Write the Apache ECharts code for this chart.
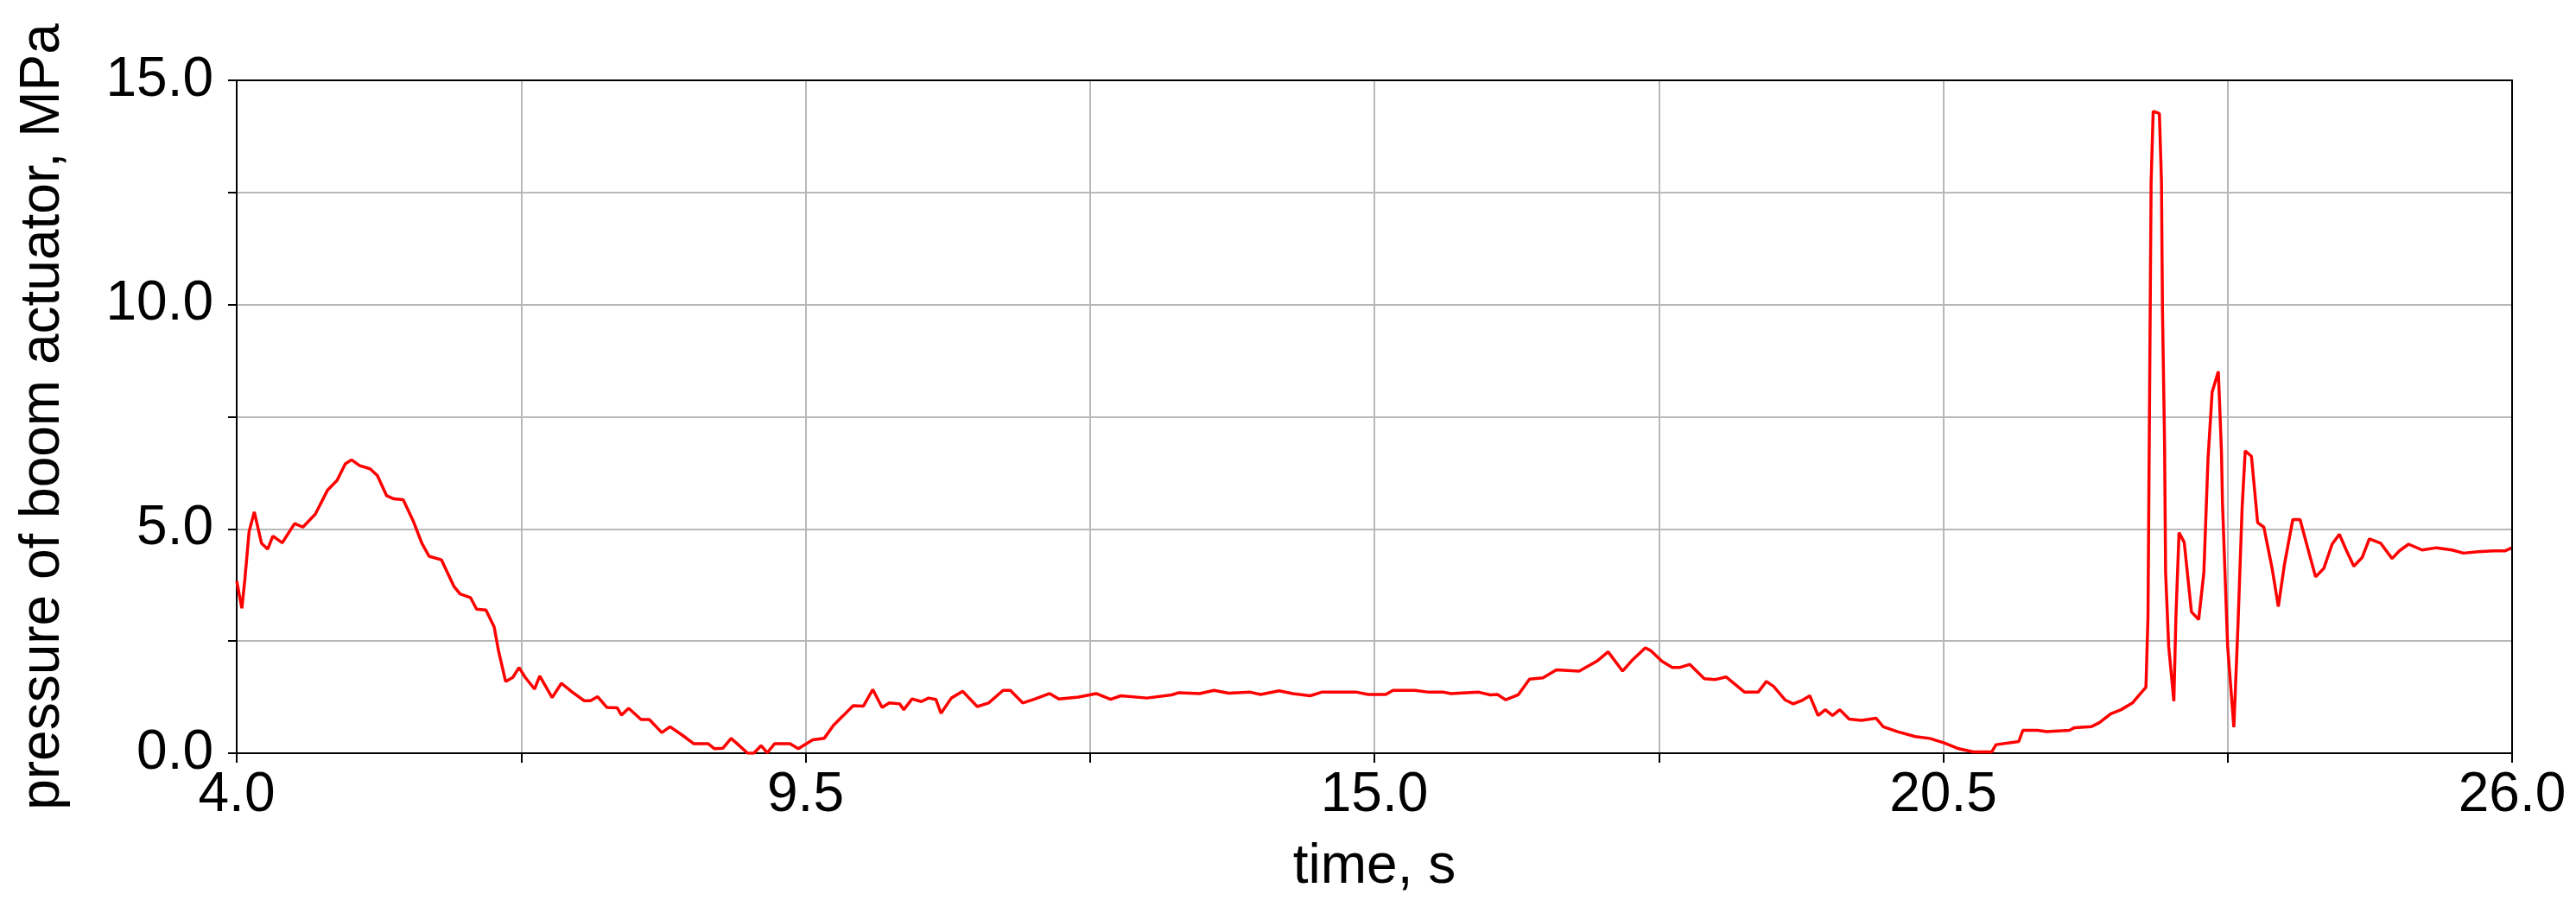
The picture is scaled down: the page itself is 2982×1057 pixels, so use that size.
<!DOCTYPE html>
<html>
<head>
<meta charset="utf-8">
<script src="https://cdn.jsdelivr.net/npm/echarts@6/dist/echarts.min.js"></script>
<style>
html,body{margin:0;padding:0;background:#fff;}
#chart{width:2982px;height:1057px;}
</style>
</head>
<body>
<div id="chart"></div>
<script>
// time, s
var time = [
4.00,4.05,4.08,4.12,4.17,4.24,4.30,4.35,4.44,4.56,4.64,4.76,4.88,4.97,5.05,5.11,5.19,5.29,5.36,5.45,
5.52,5.61,5.71,5.79,5.86,5.98,6.10,6.16,6.26,6.32,6.41,6.49,6.53,6.60,6.67,6.73,6.79,6.88,6.93,7.05,
7.14,7.24,7.36,7.42,7.49,7.58,7.68,7.72,7.79,7.91,7.99,8.11,8.19,8.31,8.42,8.56,8.62,8.70,8.78,8.84,
8.94,9.00,9.07,9.13,9.20,9.35,9.43,9.57,9.68,9.77,9.87,9.96,10.06,10.15,10.24,10.31,10.41,10.45,10.53,10.62,
10.69,10.76,10.81,10.91,11.02,11.16,11.27,11.41,11.48,11.60,11.72,11.86,11.95,12.14,12.31,12.45,12.55,12.80,13.04,13.11,
13.31,13.45,13.59,13.80,13.90,14.08,14.21,14.38,14.49,14.83,14.94,15.11,15.18,15.39,15.53,15.67,15.74,16.01,16.12,16.19,
16.27,16.39,16.50,16.63,16.76,16.98,17.15,17.26,17.40,17.50,17.62,17.67,17.78,17.88,17.95,18.05,18.19,18.29,18.40,18.58,
18.71,18.79,18.86,18.97,19.05,19.13,19.21,19.29,19.36,19.43,19.50,19.59,19.71,19.85,19.92,20.06,20.23,20.37,20.51,20.65,
20.79,20.97,21.01,21.23,21.27,21.41,21.50,21.72,21.77,21.93,22.01,22.12,22.22,22.33,22.40,22.46,22.48,22.49,22.50,22.51,
22.53,22.59,22.61,22.62,22.64,22.65,22.68,22.73,22.75,22.78,22.83,22.90,22.97,23.02,23.06,23.10,23.16,23.19,23.20,23.25,
23.31,23.35,23.39,23.42,23.48,23.54,23.60,23.68,23.74,23.80,23.88,23.95,24.02,24.10,24.18,24.26,24.33,24.40,24.47,24.55,
24.62,24.73,24.84,24.91,25.00,25.13,25.27,25.42,25.53,25.67,25.82,25.93,26.00
];
// pressure of boom actuator, MPa
var pressure = [
3.84,3.23,3.90,4.94,5.38,4.68,4.55,4.84,4.69,5.12,5.04,5.33,5.87,6.08,6.45,6.54,6.41,6.34,6.19,5.74,
5.67,5.65,5.16,4.68,4.39,4.31,3.72,3.55,3.47,3.21,3.19,2.81,2.30,1.60,1.69,1.91,1.69,1.43,1.72,1.24,
1.56,1.37,1.17,1.17,1.26,1.02,1.01,0.85,1.00,0.75,0.75,0.46,0.59,0.40,0.21,0.21,0.10,0.11,0.33,0.21,
0.00,0.00,0.17,0.01,0.21,0.21,0.10,0.30,0.33,0.62,0.85,1.06,1.05,1.42,1.02,1.12,1.10,0.97,1.21,1.15,
1.23,1.20,0.89,1.23,1.38,1.04,1.12,1.40,1.40,1.12,1.21,1.33,1.21,1.25,1.33,1.20,1.28,1.23,1.30,1.35,
1.33,1.40,1.34,1.36,1.31,1.39,1.33,1.28,1.36,1.36,1.31,1.31,1.40,1.40,1.36,1.36,1.33,1.36,1.30,1.31,
1.19,1.30,1.65,1.68,1.86,1.83,2.05,2.26,1.83,2.09,2.35,2.29,2.05,1.91,1.91,1.98,1.66,1.64,1.70,1.36,
1.36,1.60,1.49,1.19,1.10,1.17,1.28,0.84,0.97,0.84,0.97,0.76,0.73,0.78,0.59,0.48,0.37,0.33,0.23,0.10,
0.03,0.03,0.19,0.26,0.51,0.51,0.48,0.51,0.57,0.59,0.68,0.88,0.97,1.12,1.31,1.47,3.06,6.30,9.50,12.71,
14.31,14.26,12.75,9.84,6.93,4.03,2.38,1.16,3.06,4.92,4.70,3.15,2.98,4.03,6.55,8.05,8.51,6.74,5.58,2.38,
0.58,2.86,5.48,6.74,6.62,5.14,5.04,4.12,3.27,4.22,5.21,5.21,4.61,3.93,4.12,4.66,4.88,4.51,4.17,4.36,
4.78,4.68,4.34,4.51,4.66,4.53,4.58,4.53,4.46,4.49,4.51,4.51,4.58
];
// tick labels
var xTickLabels = ['4.0','9.5','15.0','20.5','26.0'];
var yTickLabels = ['0.0','5.0','10.0','15.0'];

var seriesData = time.map(function(t, i){ return [t, pressure[i]]; });
var FONT = '"Liberation Sans", Arial, sans-serif';

var chart = echarts.init(document.getElementById('chart'), null, {renderer:'canvas'});
chart.setOption({
  backgroundColor:'#ffffff',
  animation:false,
  grid:{left:274, right:74, top:93, bottom:185, show:false},
  xAxis:[{
    type:'value', min:4, max:26, interval:2.75,
    name:'time, s', nameLocation:'middle', nameGap:100,
    nameTextStyle:{fontFamily:FONT, fontSize:64, color:'#000'},
    axisLine:{show:true, onZero:false, lineStyle:{color:'#000', width:2}},
    axisTick:{show:true, inside:false, length:11, lineStyle:{color:'#000', width:2}},
    axisLabel:{show:true, margin:17, fontFamily:FONT, fontSize:64, color:'#000',
      formatter:function(v){
        var k = (v-4)/5.5; var r = Math.round(k);
        return Math.abs(k-r) < 1e-6 ? xTickLabels[r] : '';
      }},
    splitLine:{show:true, showMinLine:false, showMaxLine:false, lineStyle:{color:'#b8b8b8', width:2}}
  },{
    type:'value', min:4, max:26, position:'top', z:5,
    axisLine:{show:true, onZero:false, lineStyle:{color:'#000', width:2}},
    axisTick:{show:false}, axisLabel:{show:false}, splitLine:{show:false}
  }],
  yAxis:[{
    type:'value', min:0, max:15, interval:2.5,
    name:'pressure of boom actuator, MPa', nameLocation:'middle', nameRotate:90, nameGap:192,
    nameTextStyle:{fontFamily:FONT, fontSize:64, color:'#000'},
    axisLine:{show:true, onZero:false, lineStyle:{color:'#000', width:2}},
    axisTick:{show:true, inside:false, length:10, lineStyle:{color:'#000', width:2}},
    axisLabel:{show:true, margin:27, fontFamily:FONT, fontSize:64, color:'#000',
      formatter:function(v){
        var k = v/5; var r = Math.round(k);
        return Math.abs(k-r) < 1e-6 ? yTickLabels[r] : '';
      }},
    splitLine:{show:true, showMinLine:false, showMaxLine:false, lineStyle:{color:'#b8b8b8', width:2}}
  },{
    type:'value', min:0, max:15, position:'right', z:5,
    axisLine:{show:true, onZero:false, lineStyle:{color:'#000', width:2}},
    axisTick:{show:false}, axisLabel:{show:false}, splitLine:{show:false}
  }],
  series:[{
    type:'line', xAxisIndex:0, yAxisIndex:0,
    data:seriesData, showSymbol:false, symbol:'none', smooth:false,
    lineStyle:{color:'#ff0000', width:3.5}
  }]
});
</script>
</body>
</html>
